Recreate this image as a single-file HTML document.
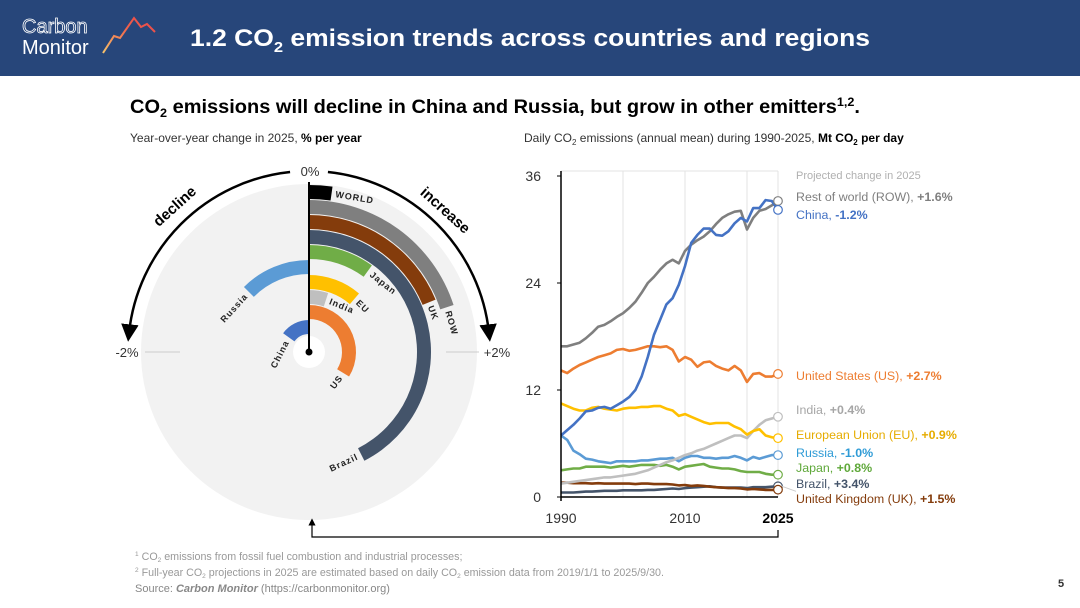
<!DOCTYPE html>
<html><head><meta charset="utf-8"><style>
html,body{margin:0;padding:0;background:#fff;}
svg{display:block;font-family:"Liberation Sans",sans-serif;}
</style></head><body>
<svg id="page" width="1080" height="608" viewBox="0 0 1080 608" xmlns="http://www.w3.org/2000/svg">
<defs>
<linearGradient id="lg" x1="0" y1="1" x2="1" y2="0"><stop offset="0" stop-color="#f6c36b"/><stop offset="0.6" stop-color="#f0604a"/><stop offset="1" stop-color="#e8454a"/></linearGradient>
<marker id="ah" markerWidth="7" markerHeight="7" refX="3.5" refY="3.5" orient="auto"><path d="M0,0 L7,3.5 L0,7 z" fill="#000"/></marker>
<marker id="ah2" markerWidth="6" markerHeight="6" refX="3" refY="3" orient="auto"><path d="M0,0 L6,3 L0,6 z" fill="#000"/></marker>
</defs>
<rect x="0" y="0" width="1080" height="76" fill="#27467a"/>
<text x="22" y="33" font-size="20" fill="none" stroke="#fff" stroke-width="0.8">Carbon</text>
<text x="22" y="54" font-size="20" fill="#fff">Monitor</text>
<polyline points="103,53 114,36 120,38 134,18 141,27 147,24 155,32" fill="none" stroke="url(#lg)" stroke-width="2"/>
<text x="190" y="46" font-size="24" font-weight="bold" fill="#fff" textLength="680" lengthAdjust="spacingAndGlyphs">1.2  CO<tspan font-size="15" dy="6">2</tspan><tspan dy="-6"> emission trends across countries and regions</tspan></text>
<text x="130" y="113" font-size="19" font-weight="bold" fill="#000" textLength="730" lengthAdjust="spacingAndGlyphs">CO<tspan font-size="12" dy="4">2</tspan><tspan dy="-4"> emissions will decline in China and Russia, but grow in other emitters</tspan><tspan font-size="12" dy="-7">1,2</tspan><tspan dy="7">.</tspan></text>
<text x="130" y="142" font-size="12" fill="#333">Year-over-year change in 2025, <tspan fill="#000" font-weight="bold">% per year</tspan></text>
<text x="524" y="142" font-size="12" fill="#333">Daily CO<tspan font-size="8" dy="3">2</tspan><tspan dy="-3"> emissions (annual mean) during 1990-2025, </tspan><tspan fill="#000" font-weight="bold">Mt CO<tspan font-size="8" dy="3">2</tspan><tspan dy="-3"> per day</tspan></tspan></text>
<g id="radial"></g>
<g id="lines"></g>
<path d="M778,530 L778,537 L312,537 L312,522" fill="none" stroke="#000" stroke-width="1.2" marker-end="url(#ah2)"/>
<text x="135" y="560" font-size="10.7" fill="#999"><tspan font-size="6.5" dy="-4">1</tspan><tspan dy="4"> CO</tspan><tspan font-size="6.5" dy="2">2</tspan><tspan dy="-2"> emissions from fossil fuel combustion and industrial processes;</tspan></text>
<text x="135" y="576" font-size="10.7" fill="#999"><tspan font-size="6.5" dy="-4">2</tspan><tspan dy="4"> Full-year CO</tspan><tspan font-size="6.5" dy="2">2</tspan><tspan dy="-2"> projections in 2025 are estimated based on daily CO</tspan><tspan font-size="6.5" dy="2">2</tspan><tspan dy="-2"> emission data from 2019/1/1 to 2025/9/30.</tspan></text>
<text x="135" y="592" font-size="11" fill="#888">Source: <tspan font-weight="bold" font-style="italic">Carbon Monitor</tspan> (https://carbonmonitor.org)</text>
<text x="1058" y="587" font-size="11" font-weight="bold" fill="#333">5</text>
</svg>
<script>
const NS="http://www.w3.org/2000/svg";
// ---- radial data ----
const radNames=["WORLD","ROW","UK","Brazil","Japan","Russia","EU","India","US","China"];
const radValues=[0.18,1.6,1.5,3.4,0.8,-1.0,0.9,0.4,2.7,-1.2];
const radColors=["#000000","#7f7f7f","#843c0c","#44546a","#70ad47","#5b9bd5","#ffc000","#bfbfbf","#ed7d31","#4472c4"];
// ---- line chart data ----
const years=[];for(let y=1990;y<=2025;y++)years.push(y);
const seriesNames=["Brazil","UK","Japan","Russia","India","EU","US","ROW","China"];
const sROW=[16.9,16.9,17.1,17.3,17.8,18.4,19.1,19.3,19.7,20.2,20.6,21.2,21.9,22.9,24.0,24.7,25.5,26.2,26.6,26.2,27.6,28.3,28.8,29.2,29.8,30.6,31.3,31.7,32.0,32.1,30.0,31.3,32.1,32.3,32.7,33.2];
const sChina=[6.9,7.5,8.1,8.8,9.6,9.7,10.0,10.1,9.9,10.3,10.7,11.2,12.0,13.5,15.7,18.2,19.9,21.6,22.3,23.8,25.9,28.5,29.4,30.1,30.1,29.4,29.3,29.8,30.7,31.3,30.9,32.4,32.4,33.3,33.2,32.2];
const sUS=[14.2,13.9,14.4,14.8,15.1,15.4,15.7,15.9,16.1,16.5,16.6,16.4,16.5,16.7,16.9,16.9,16.8,16.9,16.5,15.2,15.7,15.4,14.6,15.1,15.2,14.7,14.4,14.2,14.7,14.2,12.9,13.8,13.9,13.5,13.5,13.8];
const sEU=[10.5,10.2,9.9,9.7,9.7,10.0,10.1,9.9,9.8,9.7,9.9,10.0,10.0,10.1,10.1,10.2,10.2,9.9,9.7,9.1,9.3,9.0,8.7,8.4,8.2,8.3,8.3,8.3,7.9,7.6,7.0,7.4,7.6,6.9,6.7,6.6];
const sIndia=[1.5,1.6,1.7,1.8,1.9,2.0,2.1,2.2,2.2,2.3,2.4,2.5,2.6,2.8,3.0,3.3,3.6,3.9,4.1,4.4,4.7,4.9,5.2,5.4,5.7,6.0,6.3,6.6,6.9,6.9,6.6,7.4,8.1,8.6,8.8,9.0];
const sRussia=[6.9,6.4,5.2,4.8,4.3,4.2,4.0,3.9,3.8,4.0,4.0,4.0,4.0,4.1,4.1,4.2,4.3,4.3,4.4,4.0,4.4,4.6,4.6,4.4,4.4,4.3,4.4,4.4,4.6,4.4,4.1,4.5,4.3,4.5,4.7,4.7];
const sJapan=[3.0,3.1,3.2,3.2,3.4,3.4,3.4,3.4,3.3,3.4,3.5,3.4,3.5,3.6,3.6,3.6,3.5,3.6,3.4,3.1,3.4,3.5,3.6,3.7,3.4,3.3,3.2,3.2,3.1,2.9,2.8,2.8,2.8,2.6,2.5,2.5];
const sBrazil=[0.5,0.5,0.5,0.55,0.6,0.6,0.65,0.7,0.7,0.7,0.75,0.75,0.75,0.75,0.8,0.8,0.85,0.9,0.95,0.9,1.0,1.05,1.1,1.15,1.2,1.1,1.05,1.05,1.05,1.05,1.0,1.1,1.1,1.1,1.15,1.2];
const sUK=[1.6,1.6,1.55,1.55,1.55,1.5,1.55,1.5,1.5,1.5,1.5,1.5,1.45,1.5,1.5,1.45,1.45,1.45,1.4,1.3,1.35,1.25,1.3,1.25,1.15,1.1,1.05,1.0,1.0,0.95,0.85,0.9,0.85,0.8,0.8,0.82];
const yTicks=[0,12,24,36];
const xTickLabels=["1990","2010","2025"];
const legendLabels=["Rest of world (ROW), ","China, ","United States (US), ","India, ","European Union (EU), ","Russia, ","Japan, ","Brazil, ","United Kingdom (UK), "];
const legendValues=["+1.6%","-1.2%","+2.7%","+0.4%","+0.9%","-1.0%","+0.8%","+3.4%","+1.5%"];

function mk(tag,attrs,parent){const e=document.createElementNS(NS,tag);for(const k in attrs)e.setAttribute(k,attrs[k]);parent.appendChild(e);return e;}

// ---------- radial ----------
(function(){
const g=document.getElementById('radial');
const cx=309,cy=352;
const ang=v=>v*45; // degrees per %
const pt=(r,a)=>[cx+r*Math.sin(a*Math.PI/180),cy-r*Math.cos(a*Math.PI/180)];
const bg=mk('circle',{cx:cx,cy:cy,r:168,fill:'#f2f2f2'},g);


const wc=mk('circle',{cx:cx,cy:cy,r:16,fill:'#fff'},g);


const a1=pt(181,-6),a2=pt(181,-84),b1=pt(181,6),b2=pt(181,84);
const la=mk('path',{d:`M${a1[0]},${a1[1]} A181,181 0 0 0 ${a2[0]},${a2[1]}`,fill:'none',stroke:'#000','stroke-width':2.5,'marker-end':'url(#ah)'},g);


const ra=mk('path',{d:`M${b1[0]},${b1[1]} A181,181 0 0 1 ${b2[0]},${b2[1]}`,fill:'none',stroke:'#000','stroke-width':2.5,'marker-end':'url(#ah)'},g);


let t=mk('text',{x:178,y:210,'font-size':15,'font-weight':'bold','text-anchor':'middle',transform:'rotate(-42 178 210)'},g);t.textContent='decline';


t=mk('text',{x:442,y:214,'font-size':15,'font-weight':'bold','text-anchor':'middle',transform:'rotate(42 442 214)'},g);t.textContent='increase';


t=mk('text',{x:310,y:176,'font-size':13,'text-anchor':'middle',fill:'#333'},g);t.textContent='0%';


t=mk('text',{x:127,y:357,'font-size':13,'text-anchor':'middle',fill:'#333'},g);t.textContent='-2%';


t=mk('text',{x:497,y:357,'font-size':13,'text-anchor':'middle',fill:'#333'},g);t.textContent='+2%';


let l=mk('line',{x1:145,y1:352,x2:180,y2:352,stroke:'#ccc'},g);


l=mk('line',{x1:446,y1:352,x2:479,y2:352,stroke:'#ccc'},g);


radNames.forEach((n,i)=>{
  const rOut=167-15*i, rIn=rOut-14, rm=(rOut+rIn)/2;
  const a=ang(radValues[i]);
  const p1=pt(rOut,0),p2=pt(rOut,a),p3=pt(rIn,a),p4=pt(rIn,0);
  const large=Math.abs(a)>180?1:0, sw=a>0?1:0;
  const d=`M${p1[0]},${p1[1]} A${rOut},${rOut} 0 ${large} ${sw} ${p2[0]},${p2[1]} L${p3[0]},${p3[1]} A${rIn},${rIn} 0 ${large} ${1-sw} ${p4[0]},${p4[1]} Z`;
  const b=mk('path',{d:d,fill:radColors[i]},g);
  
  
  let la2, rot, anchor;
  const gap=(4/rm)*180/Math.PI;
  if(a>=0){la2=a+gap;}else{la2=a-gap;}
  const p=pt(rm,la2);
  if(a>=0 && la2<=95){rot=la2;anchor='start';}
  else if(a>=0){rot=la2-180;anchor='end';}
  else {rot=la2;anchor='end';}
  const tx=mk('text',{x:p[0],y:p[1],'font-size':9,'font-weight':'bold','letter-spacing':'1','fill':'#222','text-anchor':anchor,'dominant-baseline':'central',transform:`rotate(${rot} ${p[0]} ${p[1]})`},g);
  tx.textContent=n;
  
  
});
const vl=mk('line',{x1:cx,y1:cy,x2:cx,y2:182,stroke:'#000','stroke-width':2},g);


const dot=mk('circle',{cx:cx,cy:cy,r:3.5,fill:'#000'},g);


})();

// ---------- line chart ----------
(function(){
const g=document.getElementById('lines');
const x0=561,x1=778,y0=497,yTop=176;
const X=yr=>x0+(yr-1990)*(x1-x0)/35;
const Y=v=>y0-v*(y0-yTop)/36;
[2000,2010,2020,2025].forEach(yr=>{
  const l=mk('line',{x1:X(yr),y1:171,x2:X(yr),y2:y0,stroke:'#e3e3e3','stroke-width':1},g);
  
  
});
const tl=mk('line',{x1:x0,y1:171,x2:x1,y2:171,stroke:'#e3e3e3'},g);


const seriesData=[sBrazil,sUK,sJapan,sRussia,sIndia,sEU,sUS,sROW,sChina];
const seriesColors=["#44546a","#843c0c","#70ad47","#5b9bd5","#bfbfbf","#ffc000","#ed7d31","#7f7f7f","#4472c4"];
seriesData.forEach((s,i)=>{
  const pts=s.map((v,j)=>X(years[j]).toFixed(1)+','+Y(v).toFixed(1)).join(' ');
  const pl=mk('polyline',{points:pts,fill:'none',stroke:seriesColors[i],'stroke-width':2.6,'stroke-linejoin':'round'},g);
  
  
});
seriesData.forEach((s,i)=>{
  const c=mk('circle',{cx:X(2025),cy:Y(s[s.length-1]),r:4.3,fill:'#fff',stroke:seriesColors[i],'stroke-width':1.2},g);
  
  
});
const ya=mk('line',{x1:x0,y1:171,x2:x0,y2:y0+4,stroke:'#000','stroke-width':1.5},g);


const xa=mk('line',{x1:x0,y1:y0,x2:x1,y2:y0,stroke:'#000','stroke-width':1.5},g);


yTicks.forEach(v=>{
  const tk=mk('line',{x1:x0-4,y1:Y(v),x2:x0,y2:Y(v),stroke:'#000'},g);
  
  
  const t=mk('text',{x:541,y:Y(v)+5,'font-size':14,'text-anchor':'end',fill:'#333'},g);
  t.textContent=v;
  
  
});
xTickLabels.forEach(s=>{
  const t=mk('text',{x:X(+s),y:523,'font-size':14,'text-anchor':'middle',fill:s==='2025'?'#000':'#333','font-weight':s==='2025'?'bold':'normal'},g);
  t.textContent=s;
  
  
});
const pc=mk('text',{x:796,y:179,'font-size':11,fill:'#b0b0b0'},g);
pc.textContent='Projected change in 2025';


const legY=[201,219,380,414,439,457,472,488,503];
const legColors=["#7f7f7f","#4472c4","#ed7d31","#a6a6a6","#e6ac00","#2e9bd6","#5fa83a","#44546a","#843c0c"];
legendLabels.forEach((s,i)=>{
  const t=mk('text',{x:796,y:legY[i],'font-size':12.4,fill:legColors[i]},g);
  t.textContent=s;
  const b=mk('tspan',{'font-weight':'bold'},t);b.textContent=legendValues[i];
  
  
});
const cl=mk('polyline',{points:`${X(2025)+4},${Y(sBrazil[35])} 796,${Y(sBrazil[35])+5}`,fill:'none',stroke:'#ccc'},g);


})();
</script>
</body></html>
